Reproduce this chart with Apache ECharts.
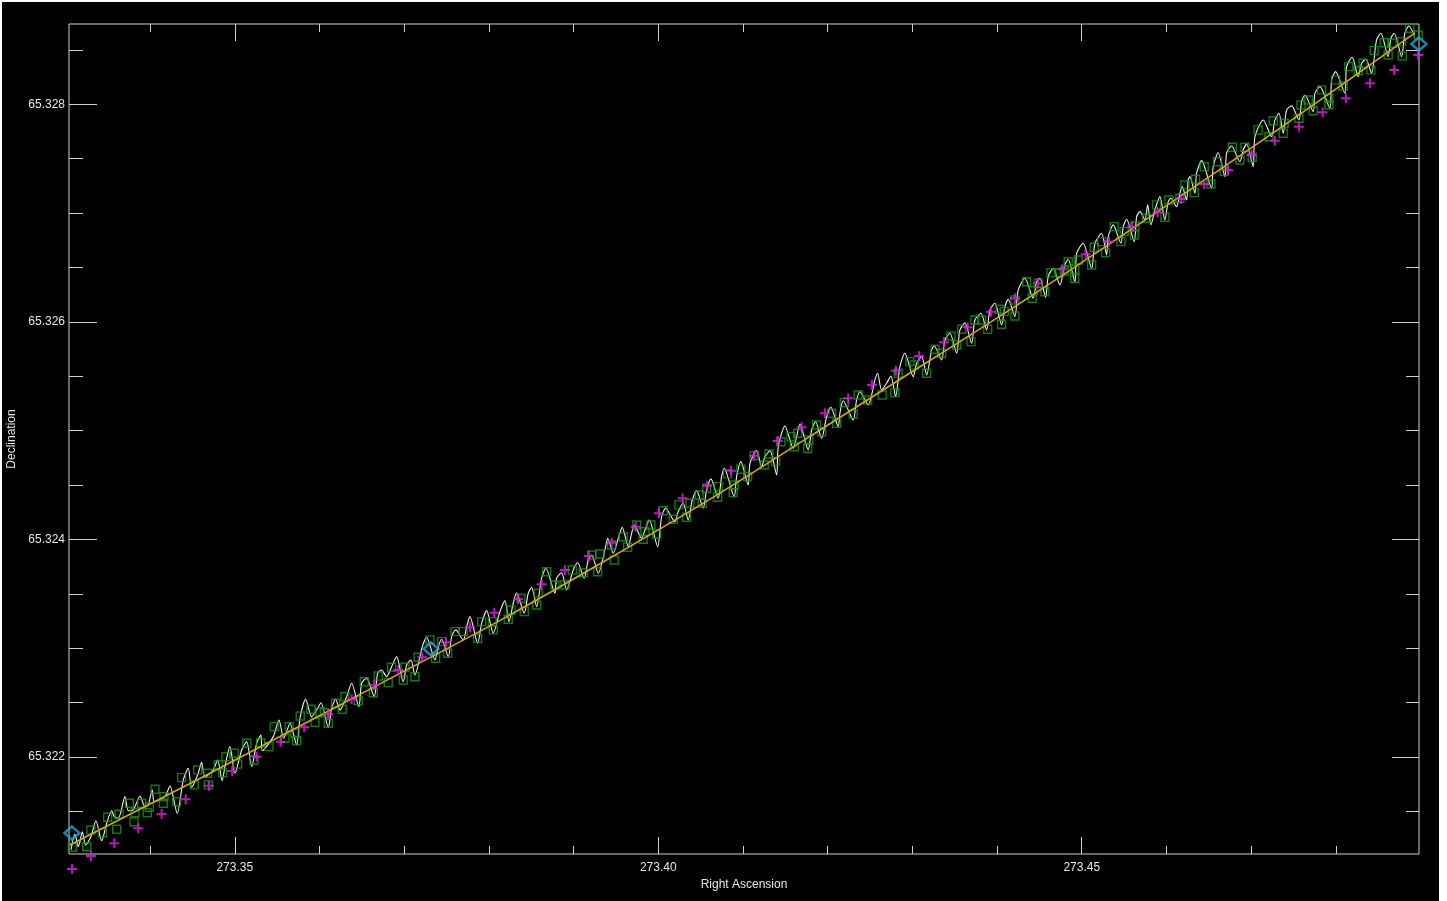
<!DOCTYPE html>
<html>
<head>
<meta charset="utf-8">
<script src="https://cdn.jsdelivr.net/npm/echarts@6.0.0/dist/echarts.min.js"></script>
<style>
  html, body { margin: 0; padding: 0; background: #fff; }
  #chart { position: absolute; left: 2px; top: 2px; width: 1437px; height: 899px; }
</style>
</head>
<body>
<div id="chart"></div>
<script>
// axis ranges and tick values
const raMin = 273.33043
const raMax = 273.48982
const decMin = 65.321108
const decMax = 65.328738
const raMajor = [273.35, 273.40, 273.45]
const raMinor = [273.34, 273.35, 273.36, 273.37, 273.38, 273.39, 273.40, 273.41, 273.42, 273.43, 273.44, 273.45, 273.46, 273.47, 273.48]
const decMajor = [65.322, 65.324, 65.326, 65.328]
const decMinor = [65.3215, 65.322, 65.3225, 65.323, 65.3235, 65.324, 65.3245, 65.325, 65.3255, 65.326, 65.3265, 65.327, 65.3275, 65.328, 65.3285]

// fitted track (yellow)
const trendLine = [
  [273.33054, 65.321191], [273.36242, 65.322478], [273.39430, 65.323829],
  [273.42618, 65.325355], [273.45805, 65.326964], [273.48934, 65.328656]
]

// reference positions (cyan diamonds)
const cyanDiamonds = [
  [273.33078, 65.321301], [273.37316, 65.322993], [273.48981, 65.328554]
]

// magenta crosses
const magentaPluses = [
  [273.33078, 65.320970], [273.33302, 65.321090], [273.33577, 65.321207], [273.33861, 65.321344],
  [273.34137, 65.321476], [273.34420, 65.321611], [273.34695, 65.321736], [273.34970, 65.321871],
  [273.35259, 65.322003], [273.35542, 65.322140], [273.35820, 65.322273], [273.36104, 65.322395],
  [273.36380, 65.322530], [273.36647, 65.322662], [273.36930, 65.322800], [273.37214, 65.322916],
  [273.37493, 65.323054], [273.37777, 65.323192], [273.38064, 65.323326], [273.38347, 65.323452],
  [273.38623, 65.323587], [273.38898, 65.323719], [273.39182, 65.323848], [273.39450, 65.323970],
  [273.39733, 65.324117], [273.40008, 65.324240], [273.40288, 65.324378], [273.40578, 65.324494],
  [273.40858, 65.324632], [273.41133, 65.324770], [273.41409, 65.324905], [273.41693, 65.325031],
  [273.41968, 65.325159], [273.42243, 65.325297], [273.42523, 65.325420], [273.42806, 65.325551],
  [273.43081, 65.325686], [273.43373, 65.325812], [273.43653, 65.325950], [273.43928, 65.326093],
  [273.44211, 65.326217], [273.44486, 65.326355], [273.44769, 65.326483], [273.45046, 65.326621],
  [273.45321, 65.326737], [273.45596, 65.326875], [273.45896, 65.327007], [273.46171, 65.327129],
  [273.46446, 65.327267], [273.46729, 65.327396], [273.47005, 65.327534], [273.47281, 65.327665],
  [273.47564, 65.327794], [273.47844, 65.327927], [273.48119, 65.328055], [273.48402, 65.328193],
  [273.48689, 65.328315], [273.48972, 65.328453]
]

// green squares
const greenSquares = [
  [273.33082, 65.321170], [273.33252, 65.321175], [273.33302, 65.321329], [273.33436, 65.321304],
  [273.33500, 65.321446], [273.33606, 65.321335], [273.33633, 65.321473], [273.33755, 65.321574],
  [273.33810, 65.321405], [273.33822, 65.321488], [273.33901, 65.321574], [273.33967, 65.321488],
  [273.33991, 65.321538], [273.34058, 65.321703], [273.34164, 65.321635], [273.34156, 65.321574],
  [273.34314, 65.321589], [273.34373, 65.321810], [273.34522, 65.321743], [273.34562, 65.321881],
  [273.34680, 65.321850], [273.34687, 65.321743], [273.34805, 65.321926], [273.34857, 65.321856],
  [273.34896, 65.322003], [273.34994, 65.322034], [273.35034, 65.321936], [273.35141, 65.322126],
  [273.35227, 65.321972], [273.35306, 65.322131], [273.35404, 65.322095], [273.35466, 65.322279],
  [273.35593, 65.322172], [273.35643, 65.322279], [273.35711, 65.322218], [273.35731, 65.322150],
  [273.35773, 65.322377], [273.35900, 65.322438], [273.35947, 65.322319], [273.36006, 65.322416],
  [273.36057, 65.322407], [273.36104, 65.322310], [273.36191, 65.322494],
  [273.36269, 65.322438], [273.36301, 65.322554], [273.36458, 65.322517], [273.36529, 65.322692],
  [273.36635, 65.322591], [273.36694, 65.322745], [273.36812, 65.322683], [273.36852, 65.322825],
  [273.36989, 65.322708], [273.37009, 65.322825], [273.37127, 65.322738], [273.37166, 65.322917],
  [273.37305, 65.323076], [273.37372, 65.322907], [273.37443, 65.323060], [273.37514, 65.322953],
  [273.37600, 65.323152], [273.37698, 65.323152], [273.37868, 65.323091], [273.37915, 65.323244],
  [273.38040, 65.323244], [273.38052, 65.323168], [273.38229, 65.323266], [273.38261, 65.323351],
  [273.38379, 65.323459], [273.38418, 65.323336], [273.38564, 65.323397], [273.38583, 65.323505],
  [273.38682, 65.323703], [273.38780, 65.323581], [273.38898, 65.323581], [273.38985, 65.323719],
  [273.39114, 65.323694], [273.39214, 65.323857], [273.39285, 65.323703], [273.39312, 65.323866],
  [273.39480, 65.323811], [273.39450, 65.323949], [273.39587, 65.324025], [273.39639, 65.323928],
  [273.39745, 65.324133], [273.39823, 65.324001], [273.39843, 65.324071], [273.39914, 65.324133],
  [273.39981, 65.324050], [273.40059, 65.324264], [273.40177, 65.324185], [273.40244, 65.324317],
  [273.40335, 65.324203], [273.40374, 65.324332], [273.40484, 65.324408], [273.40519, 65.324332],
  [273.40571, 65.324470], [273.40701, 65.324387], [273.40708, 65.324485], [273.40819, 65.324602],
  [273.40885, 65.324430], [273.40897, 65.324500], [273.40976, 65.324645], [273.41055, 65.324577],
  [273.41133, 65.324770], [273.41251, 65.324684], [273.41307, 65.324785], [273.41386, 65.324715],
  [273.41448, 65.324898], [273.41567, 65.324945], [273.41606, 65.324852], [273.41646, 65.324976],
  [273.41764, 65.324838], [273.41779, 65.324914], [273.41870, 65.325052], [273.41929, 65.324990],
  [273.42047, 65.325160], [273.42106, 65.325068], [273.42196, 65.325257], [273.42302, 65.325153],
  [273.42361, 65.325328], [273.42472, 65.325282],
  [273.42644, 65.325328], [273.42794, 65.325349], [273.42833, 65.325527], [273.42971, 65.325634],
  [273.43022, 65.325604], [273.43169, 65.325527], [273.43267, 65.325748], [273.43346, 65.325711],
  [273.43456, 65.325870], [273.43523, 65.325787], [273.43582, 65.325932], [273.43692, 65.325818],
  [273.43739, 65.326017], [273.43818, 65.326017], [273.43889, 65.325932], [273.44034, 65.326116],
  [273.44054, 65.325978], [273.44085, 65.326094], [273.44211, 65.326054], [273.44211, 65.326201],
  [273.44349, 65.326369], [273.44415, 65.326217], [273.44427, 65.326287], [273.44486, 65.326355],
  [273.44565, 65.326277], [273.44636, 65.326452], [273.44742, 65.326452], [273.44793, 65.326468],
  [273.44840, 65.326553], [273.44919, 65.326483], [273.44919, 65.326401], [273.44958, 65.326569],
  [273.45117, 65.326523], [273.45147, 65.326686], [273.45235, 65.326737], [273.45282, 65.326636],
  [273.45383, 65.326875], [273.45463, 65.326737], [273.45501, 65.326829], [273.45620, 65.326799],
  [273.45628, 65.326881], [273.45766, 65.326952],
  [273.45884, 65.327075], [273.45982, 65.326961], [273.46029, 65.327120], [273.46159, 65.327136],
  [273.46218, 65.327258], [273.46328, 65.327188], [273.46344, 65.327311], [273.46446, 65.327427],
  [273.46525, 65.327267], [273.46604, 65.327472], [273.46682, 65.327381], [273.46777, 65.327605],
  [273.46867, 65.327488], [273.46927, 65.327605], [273.47013, 65.327513], [273.47083, 65.327764],
  [273.47210, 65.327702], [273.47261, 65.327849], [273.47379, 65.327734], [273.47390, 65.327826],
  [273.47564, 65.327871], [273.47588, 65.327994], [273.47674, 65.328040], [273.47733, 65.327941],
  [273.47832, 65.328132], [273.47918, 65.328055], [273.47918, 65.327994], [273.47997, 65.328224],
  [273.48087, 65.328168], [273.48154, 65.328346], [273.48264, 65.328309], [273.48323, 65.328377],
  [273.48414, 65.328316], [273.48453, 65.328493], [273.48571, 65.328566], [273.48618, 65.328453],
  [273.48665, 65.328561], [273.48777, 65.328576], [273.48784, 65.328444], [273.48874, 65.328699],
  [273.48972, 65.328637]
]

// white scan path: foot, crest, drop for each arch
const whiteLine = [
  [273.33066, 65.321145], [273.33113, 65.321292], [273.33152, 65.321175],
  [273.33172, 65.321221], [273.33200, 65.321313], [273.33240, 65.321191],
  [273.33302, 65.321267], [273.33361, 65.321414], [273.33429, 65.321230],
  [273.33488, 65.321391], [273.33547, 65.321506], [273.33577, 65.321451],
  [273.33625, 65.321436], [273.33704, 65.321635], [273.33743, 65.321506],
  [273.33802, 65.321513], [273.33881, 65.321641], [273.33940, 65.321543],
  [273.33979, 65.321559], [273.34026, 65.321697], [273.34050, 65.321589],
  [273.34176, 65.321635], [273.34235, 65.321733], [273.34321, 65.321481],
  [273.34392, 65.321788], [273.34451, 65.321896], [273.34491, 65.321721],
  [273.34569, 65.321850], [273.34609, 65.321951], [273.34648, 65.321813],
  [273.34746, 65.321881], [273.34798, 65.321972], [273.34852, 65.321782],
  [273.34884, 65.321911], [273.34943, 65.322095], [273.35002, 65.321850],
  [273.35082, 65.322064], [273.35141, 65.322141], [273.35200, 65.321911],
  [273.35259, 65.322126], [273.35309, 65.322202], [273.35325, 65.322058],
  [273.35455, 65.322187], [273.35522, 65.322340], [273.35577, 65.322172],
  [273.35613, 65.322233], [273.35652, 65.322310], [273.35731, 65.322110],
  [273.35770, 65.322356], [273.35837, 65.322530], [273.35908, 65.322370],
  [273.35967, 65.322432], [273.36018, 65.322499], [273.36104, 65.322273],
  [273.36144, 65.322448], [273.36191, 65.322530], [273.36242, 65.322432],
  [273.36321, 65.322554], [273.36380, 65.322677], [273.36466, 65.322463],
  [273.36498, 65.322677], [273.36557, 65.322723], [273.36647, 65.322554],
  [273.36687, 65.322769], [273.36734, 65.322800], [273.36793, 65.322738],
  [273.36852, 65.322830], [273.36911, 65.322922], [273.36989, 65.322692],
  [273.37030, 65.322846], [273.37080, 65.322892], [273.37127, 65.322754],
  [273.37214, 65.323014], [273.37266, 65.323100], [273.37364, 65.322892],
  [273.37403, 65.323014], [273.37443, 65.323082], [273.37521, 65.322922],
  [273.37561, 65.323106], [273.37608, 65.323168], [273.37698, 65.323076],
  [273.37738, 65.323198], [273.37777, 65.323290], [273.37868, 65.323045],
  [273.37915, 65.323229], [273.37974, 65.323345], [273.38052, 65.323137],
  [273.38131, 65.323336], [273.38190, 65.323437], [273.38237, 65.323244],
  [273.38288, 65.323413], [273.38328, 65.323510], [273.38418, 65.323321],
  [273.38465, 65.323505], [273.38505, 65.323560], [273.38564, 65.323382],
  [273.38623, 65.323643], [273.38674, 65.323735], [273.38780, 65.323505],
  [273.38800, 65.323643], [273.38859, 65.323694], [273.38918, 65.323535],
  [273.38996, 65.323719], [273.39048, 65.323786], [273.39126, 65.323643],
  [273.39173, 65.323811], [273.39214, 65.323857], [273.39292, 65.323689],
  [273.39379, 65.323933], [273.39403, 65.324010], [273.39469, 65.323873],
  [273.39528, 65.324010], [273.39575, 65.324111], [273.39646, 65.323933],
  [273.39686, 65.324056], [273.39717, 65.324133], [273.39804, 65.324010],
  [273.39843, 65.324087], [273.39894, 65.324179], [273.39993, 65.323933],
  [273.40040, 65.324209], [273.40087, 65.324286], [273.40197, 65.324163],
  [273.40236, 65.324255], [273.40295, 65.324332], [273.40354, 65.324179],
  [273.40401, 65.324362], [273.40453, 65.324448], [273.40531, 65.324286],
  [273.40571, 65.324455], [273.40622, 65.324556], [273.40708, 65.324378],
  [273.40748, 65.324577], [273.40779, 65.324654], [273.40897, 65.324393],
  [273.40925, 65.324577], [273.40976, 65.324715], [273.41062, 65.324500],
  [273.41083, 65.324700], [273.41162, 65.324816], [273.41221, 65.324669],
  [273.41260, 65.324761], [273.41319, 65.324816], [273.41398, 65.324592],
  [273.41417, 65.324852], [273.41496, 65.325043], [273.41594, 65.324838],
  [273.41634, 65.324945], [273.41673, 65.325061], [273.41771, 65.324822],
  [273.41811, 65.325006], [273.41858, 65.325082], [273.41929, 65.324930],
  [273.41988, 65.325128], [273.42039, 65.325215], [273.42125, 65.325036],
  [273.42145, 65.325160], [273.42184, 65.325275], [273.42302, 65.325098],
  [273.42342, 65.325282], [273.42381, 65.325358], [273.42479, 65.325236],
  [273.42558, 65.325466], [273.42590, 65.325527], [273.42637, 65.325374],
  [273.42696, 65.325435], [273.42747, 65.325502], [273.42803, 65.325312],
  [273.42853, 65.325588], [273.42912, 65.325711], [273.43010, 65.325496],
  [273.43051, 65.325619], [273.43110, 65.325680], [273.43169, 65.325512],
  [273.43228, 65.325742], [273.43258, 65.325778], [273.43346, 65.325650],
  [273.43385, 65.325833], [273.43444, 65.325895], [273.43523, 65.325711],
  [273.43562, 65.325925], [273.43621, 65.325992], [273.43700, 65.325803],
  [273.43739, 65.326017], [273.43810, 65.326079], [273.43877, 65.325925],
  [273.43916, 65.326109], [273.43975, 65.326171], [273.44054, 65.325971],
  [273.44093, 65.326139], [273.44132, 65.326208], [273.44211, 65.326048],
  [273.44250, 65.326293], [273.44329, 65.326401], [273.44427, 65.326217],
  [273.44467, 65.326369], [273.44506, 65.326401], [273.44574, 65.326226],
  [273.44604, 65.326415], [273.44663, 65.326492], [273.44742, 65.326339],
  [273.44801, 65.326523], [273.44840, 65.326575], [273.44919, 65.326369],
  [273.44940, 65.326630], [273.45017, 65.326722], [273.45117, 65.326492],
  [273.45156, 65.326722], [273.45235, 65.326814], [273.45294, 65.326615],
  [273.45313, 65.326783], [273.45372, 65.326891], [273.45463, 65.326722],
  [273.45490, 65.326875], [273.45530, 65.326943], [273.45620, 65.326737],
  [273.45648, 65.326967], [273.45687, 65.327013], [273.45746, 65.326937],
  [273.45778, 65.327075], [273.45817, 65.326891],
  [273.45864, 65.327028], [273.45923, 65.327151], [273.45982, 65.326937],
  [273.46021, 65.327105], [273.46053, 65.327136], [273.46120, 65.327059],
  [273.46159, 65.327182], [273.46186, 65.327243], [273.46238, 65.327120],
  [273.46257, 65.327304], [273.46277, 65.327335], [273.46336, 65.327182],
  [273.46356, 65.327366], [273.46415, 65.327482], [273.46533, 65.327228],
  [273.46552, 65.327427], [273.46611, 65.327555], [273.46690, 65.327335],
  [273.46710, 65.327550], [273.46769, 65.327617], [273.46867, 65.327472],
  [273.46906, 65.327580], [273.46947, 65.327635], [273.47024, 65.327427],
  [273.47045, 65.327702], [273.47143, 65.327856], [273.47242, 65.327702],
  [273.47281, 65.327856], [273.47328, 65.327917], [273.47379, 65.327734],
  [273.47419, 65.327948], [273.47478, 65.327985], [273.47564, 65.327856],
  [273.47596, 65.328024], [273.47635, 65.328086], [273.47733, 65.327932],
  [273.47753, 65.328101], [273.47812, 65.328162], [273.47930, 65.327963],
  [273.47950, 65.328224], [273.47997, 65.328300], [273.48107, 65.328101],
  [273.48127, 65.328346], [273.48193, 65.328432], [273.48264, 65.328254],
  [273.48304, 65.328377], [273.48355, 65.328414], [273.48422, 65.328285],
  [273.48481, 65.328591], [273.48532, 65.328653], [273.48618, 65.328438],
  [273.48650, 65.328607], [273.48689, 65.328653], [273.48777, 65.328438],
  [273.48815, 65.328653], [273.48863, 65.328720], [273.48933, 65.328622]
]

const axisColor = '#d0d0d0'
const textColor = '#e6e6e6'
const fontFamily = 'Liberation Sans, Arial, sans-serif'

function xAxisOf(position, ticks, len, withLabels) {
  return {
    type: 'value',
    position: position,
    min: raMin,
    max: raMax,
    axisLine: { show: false },
    splitLine: { show: false },
    axisTick: { show: true, inside: true, length: len, customValues: ticks, lineStyle: { color: axisColor, width: 1 } },
    axisLabel: {
      show: withLabels,
      customValues: raMajor,
      formatter: (v) => v.toFixed(2),
      color: textColor,
      fontSize: 12,
      fontFamily: fontFamily,
      margin: 8
    },
    name: withLabels ? 'Right Ascension' : '',
    nameLocation: 'middle',
    nameGap: 22,
    nameTextStyle: { color: textColor, fontSize: 12, fontFamily: fontFamily }
  }
}

function yAxisOf(position, ticks, len, withLabels) {
  return {
    type: 'value',
    position: position,
    min: decMin,
    max: decMax,
    axisLine: { show: false },
    splitLine: { show: false },
    axisTick: { show: true, inside: true, length: len, customValues: ticks, lineStyle: { color: axisColor, width: 1 } },
    axisLabel: {
      show: withLabels,
      customValues: decMajor,
      formatter: (v) => v.toFixed(3),
      color: textColor,
      fontSize: 12,
      fontFamily: fontFamily,
      margin: 4
    },
    name: withLabels ? 'Declination' : '',
    nameLocation: 'middle',
    nameGap: 50,
    nameTextStyle: { color: textColor, fontSize: 12, fontFamily: fontFamily }
  }
}

const myChart = echarts.init(document.getElementById('chart'))
const option = {
  backgroundColor: '#000',
  animation: false,
  grid: {
    left: 67,
    top: 22,
    width: 1350,
    height: 830,
    outerBoundsMode: 'none',
    containLabel: false,
    show: true,
    borderColor: axisColor,
    borderWidth: 1,
    backgroundColor: 'transparent'
  },
  xAxis: [
    xAxisOf('bottom', raMajor, 17, true),
    xAxisOf('bottom', raMinor, 8, false),
    xAxisOf('top', raMajor, 17, false),
    xAxisOf('top', raMinor, 8, false)
  ],
  yAxis: [
    yAxisOf('left', decMajor, 28, true),
    yAxisOf('left', decMinor, 14, false),
    yAxisOf('right', decMajor, 27, false),
    yAxisOf('right', decMinor, 13, false)
  ],
  series: [
    {
      name: 'path',
      type: 'line',
      data: whiteLine,
      showSymbol: false,
      smooth: 0.25,
      lineStyle: { color: '#f2f2f2', width: 1.1 },
      z: 2
    },
    {
      name: 'samples',
      type: 'scatter',
      data: greenSquares,
      symbol: 'rect',
      symbolSize: 8,
      itemStyle: { color: 'rgba(0,0,0,0)', borderColor: '#109c10', borderWidth: 1.4 },
      z: 3
    },
    {
      name: 'fit',
      type: 'line',
      data: trendLine,
      showSymbol: false,
      smooth: true,
      lineStyle: { color: '#dca800', width: 1.5 },
      z: 4
    },
    {
      name: 'cross',
      type: 'scatter',
      data: magentaPluses,
      symbol: 'path://M4,0h2v10h-2z M0,4h10v2h-10z',
      symbolSize: 10,
      itemStyle: { color: '#e81ee8' },
      clip: false,
      z: 5
    },
    {
      name: 'ref',
      type: 'scatter',
      data: cyanDiamonds,
      symbol: 'diamond',
      symbolSize: [15, 13],
      itemStyle: { color: 'rgba(0,0,0,0)', borderColor: '#1fa8dc', borderWidth: 2.5 },
      clip: false,
      z: 6
    }
  ]
}
myChart.setOption(option)
</script>
</body>
</html>
